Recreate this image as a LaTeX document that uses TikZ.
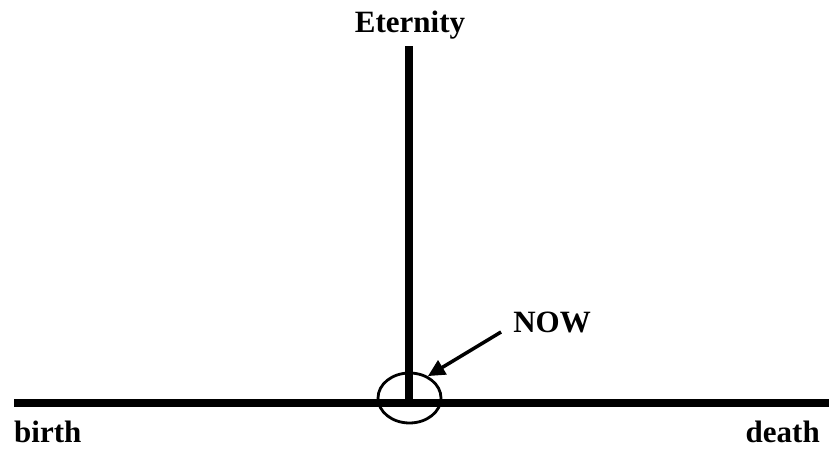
\documentclass[tikz,border=0pt]{standalone}
\usepackage{fontspec}
\setmainfont{Liberation Serif}
\usetikzlibrary{arrows.meta,shapes.geometric}

\begin{document}
\begin{tikzpicture}[x=1pt, y=1pt, line cap=butt,
		every node/.style={font=\fontsize{31}{36}\selectfont\bfseries, inner sep=0pt},
		lifeline/.style={line width=8pt},
		nowarrow/.style={line width=3.5pt, -{Triangle[length=17pt,width=16pt]}}]
	\useasboundingbox (0,0) rectangle (829,449);
	
	% lines
	\coordinate (lifestart) at (14,46);
	\coordinate (lifeend) at (829,46);
	\coordinate (origin) at (409,46);
	\coordinate (top) at (409,403);
	\draw[lifeline] (lifestart) -- (lifeend);
	\draw[lifeline] (origin) -- (top);
	
	% labels
	\node[anchor=base] (eternity) at (410,416) {Eternity};
	\node[anchor=base west] (birth) at (14,6) {birth};
	\node[anchor=base east] (death) at (820,6) {death};
	\node[anchor=base] (now) at (552,116) {NOW};
	
	% ring and arrow
	\node[draw, ellipse, line width=2.8pt, minimum width=63pt, minimum height=50pt] (nowring) at (409.5,51) {};
	\draw[nowarrow] ([shift={(-12pt,1pt)}]now.base west) -- (nowring.50);
\end{tikzpicture}
\end{document}
